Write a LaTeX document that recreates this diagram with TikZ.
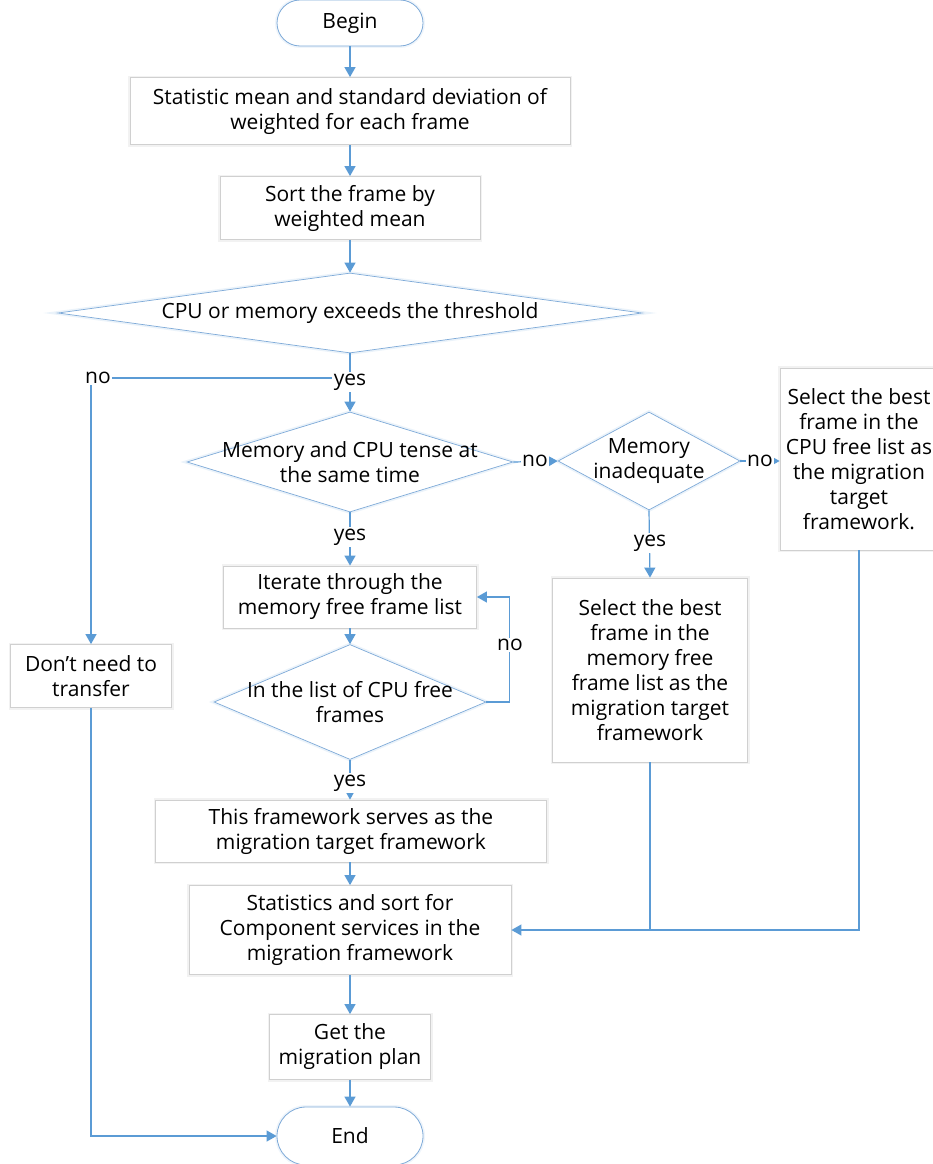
\documentclass[tikz,border=0pt]{standalone}
\usepackage{fontspec}
\setmainfont{Open Sans}
\usetikzlibrary{arrows.meta,shapes.geometric}
\definecolor{link}{HTML}{5B9BD5}
\definecolor{boxline}{HTML}{D0D0D0}
\definecolor{diamline}{HTML}{7EAAD8}
\tikzset{
  procbox/.style={rectangle, draw=boxline, line width=0.8pt, fill=white,
    align=center, inner sep=0pt, preaction={draw=black!5, line width=4pt}},
  terminal/.style={rectangle, draw=diamline, line width=0.8pt, fill=white,
    align=center, inner sep=0pt, minimum width=146pt,
    preaction={draw=link!10, line width=4pt}},
  decision/.style={diamond, draw=diamline, line width=0.7pt, fill=white,
    inner sep=0pt, preaction={draw=link!12, line width=4pt}},
  dtext/.style={align=center, inner sep=0pt},
  lbl/.style={fill=white, inner sep=1.5pt},
  flow/.style={draw=link, line width=1.2pt, -{Triangle[length=10pt,width=11pt]}},
  wire/.style={draw=link, line width=1.2pt}
}
\begin{document}
\begin{tikzpicture}[x=1pt, y=-1pt, font=\fontsize{21}{25}\selectfont]
\useasboundingbox (0,0) rectangle (933,1164);

% terminals and process boxes
\node[terminal, minimum height=46pt, rounded corners=23pt] (begin) at (350,23) {Begin};
\node[procbox, minimum width=440pt, minimum height=67pt] (b1) at (350,111)
  {Statistic mean and standard deviation of\\weighted for each frame};
\node[procbox, minimum width=260pt, minimum height=63pt] (b2) at (350,208)
  {Sort the frame by\\weighted mean};

% decisions
\node[decision, minimum width=584pt, minimum height=80pt] (d1) at (350,313) {};
\node[dtext] (d1t) at (d1) {CPU or memory exceeds the threshold};
\node[decision, minimum width=326pt, minimum height=100pt] (d2) at (350,462) {};
\node[dtext] (d2t) at (d2) {Memory and CPU tense at\\the same time};
\node[decision, minimum width=182pt, minimum height=98pt] (d3) at (649,461) {};
\node[dtext] (d3t) at (d3) {Memory\\inadequate};

\node[procbox, minimum width=158pt, minimum height=182pt] (cpu) at (859,459)
  {Select the best\\frame in the\\CPU free list as\\the migration\\target\\framework.};
\node[procbox, minimum width=253pt, minimum height=62pt] (it) at (350,597)
  {Iterate through the\\memory free frame list};
\node[decision, minimum width=272pt, minimum height=115pt] (d4) at (350,702) {};
\node[dtext] (d4t) at (d4) {In the list of CPU free\\frames};
\node[procbox, minimum width=195pt, minimum height=184pt] (mem) at (650,670)
  {Select the best\\frame in the\\memory free\\frame list as the\\migration target\\framework};
\node[procbox, minimum width=161pt, minimum height=63pt] (dont) at (91,676)
  {Don't need to\\transfer};
\node[procbox, minimum width=391pt, minimum height=62pt] (serve) at (351,831)
  {This framework serves as the\\migration target framework};
\node[procbox, minimum width=322pt, minimum height=89pt] (stats) at (350,930)
  {Statistics and sort for\\Component services in the\\migration framework};
\node[procbox, minimum width=161pt, minimum height=65pt] (get) at (350,1047)
  {Get the\\migration plan};
\node[terminal, minimum height=58pt, rounded corners=29pt] (end) at (350,1136) {End};

% connectors
\draw[flow] (begin) -- (b1);
\draw[flow] (b1) -- (b2);
\draw[flow] (b2) -- (d1);
\coordinate (j1) at (350,378);
\draw[wire] (d1.south) -- (j1);
\draw[flow] (j1) -- (d1.south |- d2.north);
\draw[flow] (j1) -- (j1 -| dont.north) -- (dont.north);
\node[lbl] (yes1) at (350,382) {yes};
\node[lbl] (no1) at (98,378) {no};

\draw[flow] (d2.east) -- (d3.west);
\node[lbl] (no2) at (535,461) {no};
\draw[flow] (d3.east) -- (d3.east -| cpu.west);
\node[lbl] (no3) at (760,461) {no};

\draw[flow] (d2.south) -- (it.north);
\node[lbl] (yes2) at (350,537) {yes};
\draw[flow] (d3.south) -- (mem.north);
\node[lbl] (yes3) at (650,543) {yes};

\draw[flow] (it) -- (d4);
\draw[flow] (d4.east) -- ++(23,0) |- (it.east);
\node[lbl] (no4) at (510,645) {no};
\draw[flow] (d4.south) -- (d4.south |- serve.north);
\node[lbl] (yes4) at (350,783) {yes};

\draw[flow] (serve.south -| stats) -- (stats.north);
\draw[wire] (mem.south) -- (mem.south |- stats.east);
\draw[flow] (cpu.south) |- (stats.east);
\draw[flow] (stats) -- (get);
\draw[flow] (get) -- (end);
\draw[flow] (dont.south) |- (end.west);
\end{tikzpicture}
\end{document}
